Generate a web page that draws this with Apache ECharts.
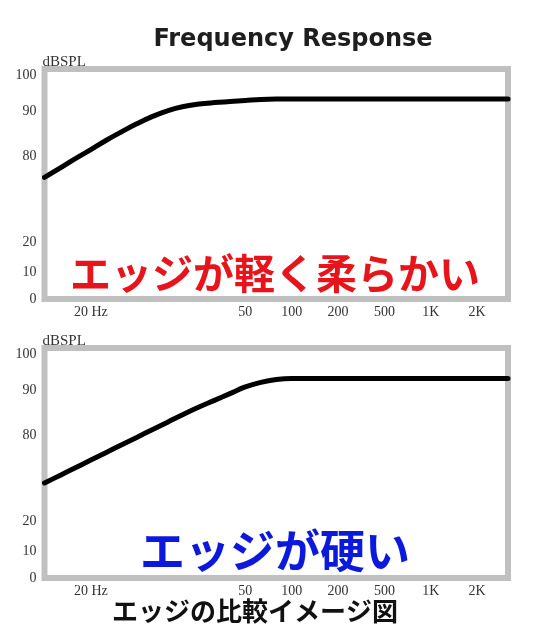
<!DOCTYPE html>
<html><head><meta charset="utf-8">
<script src="https://cdn.jsdelivr.net/npm/echarts@6/dist/echarts.min.js"></script>
<style>html,body{margin:0;padding:0;background:#fff}#c{width:540px;height:630px}</style>
</head><body><div id="c"></div>
<script>
// x categories (schematic frequency axis, blank slots between labelled frequencies)
const freqCategories = ['', '', '', '20 Hz', '', '', '', '', '', '', '', '', '', '50', '', '', '100', '', '', '200', '', '', '500', '', '', '1K', '', '', '2K', '', ''];
// y tick labels (dBSPL)
const dbTicks = [0, 10, 20, 80, 90, 100];
// series values (dBSPL)
const softEdge = [65.0, 71.6, 78.2, 81.4, 83.5, 85.4, 87.2, 88.8, 90.1, 91.2, 91.9, 92.3, 92.6, 92.9, 93.2, 93.3, 93.3, 93.3, 93.3, 93.3, 93.3, 93.3, 93.3, 93.3, 93.3, 93.3, 93.3, 93.3, 93.3, 93.3, 93.3];
const hardEdge = [46.5, 51.8, 57.1, 62.5, 67.8, 73.2, 78.5, 81.2, 82.9, 84.6, 86.2, 87.7, 89.2, 90.8, 92.1, 92.9, 93.2, 93.2, 93.2, 93.2, 93.2, 93.2, 93.2, 93.2, 93.2, 93.2, 93.2, 93.2, 93.2, 93.2, 93.2];

const labelFont = { fontFamily: '"Liberation Serif", serif', fontSize: 14, color: '#333' };
const chart = echarts.init(document.getElementById('c'), null, { renderer: 'canvas' });

function grid(top) {
  return { left: 44.5, right: 32, top: top, height: 230, show: true, borderColor: '#c0c0c0', borderWidth: 6,
           backgroundColor: 'transparent', outerBoundsMode: 'none', containLabel: false };
}
function xAxis(gi) {
  return { type: 'category', gridIndex: gi, data: freqCategories, boundaryGap: false,
    axisLine: { show: false }, axisTick: { show: false }, splitLine: { show: false },
    axisLabel: Object.assign({ interval: 0, margin: 6 }, labelFont) };
}
function yAxis(gi) {
  return { type: 'value', gridIndex: gi, min: 0, max: 101.33, interval: 10,
    breaks: [
      { start: 1, end: 9, gap: 4 },
      { start: 11, end: 19, gap: 4.67 },
      { start: 20, end: 80, gap: 19.11 },
      { start: 90.2, end: 99.8, gap: 7.6 }
    ],
    breakArea: { show: false },
    name: 'dBSPL', nameLocation: 'end', nameGap: -1,
    nameTextStyle: Object.assign({}, labelFont, { fontSize: 15, align: 'left', verticalAlign: 'bottom', padding: [0, 0, 0, -2] }),
    axisLine: { show: false }, axisTick: { show: false }, splitLine: { show: false },
    axisLabel: Object.assign({ margin: 8, customValues: dbTicks,
      formatter: function (v) { const r = Math.round(v * 100) / 100; return dbTicks.indexOf(r) >= 0 ? String(r) : ''; } }, labelFont)
  };
}
function series(gi, data) {
  return { type: 'line', xAxisIndex: gi, yAxisIndex: gi, data: data, symbol: 'none', smooth: 0.4,
    lineStyle: { color: '#000', width: 5, cap: 'round', join: 'round' }, silent: true, z: 3 };
}

chart.setOption({
  animation: false,
  backgroundColor: '#fff',
  grid: [grid(69), grid(348)],
  xAxis: [xAxis(0), xAxis(1)],
  yAxis: [yAxis(0), yAxis(1)],
  series: [series(0, softEdge), series(1, hardEdge)],
  graphic: [
    { type: 'text', x: 293, y: 40, style: { text: 'Frequency Response', fontFamily: '"DejaVu Sans", sans-serif', fontWeight: 'bold', fontSize: 24, fill: '#1e1e1e', align: 'center', verticalAlign: 'middle' } },
    { type: 'text', x: 275, y: 273, z: 10, style: { text: 'エッジが軽く柔らかい', fontFamily: '"Noto Sans CJK JP"', fontWeight: 'bold', fontSize: 41, fill: '#e8141b', align: 'center', verticalAlign: 'middle' } },
    { type: 'text', x: 275, y: 551, z: 10, style: { text: 'エッジが硬い', fontFamily: '"Noto Sans CJK JP"', fontWeight: 'bold', fontSize: 45, fill: '#0c18dc', align: 'center', verticalAlign: 'middle' } },
    { type: 'text', x: 255, y: 611, z: 10, style: { text: 'エッジの比較イメージ図', fontFamily: '"Noto Sans CJK JP"', fontWeight: 'bold', fontSize: 26, fill: '#111', align: 'center', verticalAlign: 'middle' } }
  ]
});
</script></body></html>
